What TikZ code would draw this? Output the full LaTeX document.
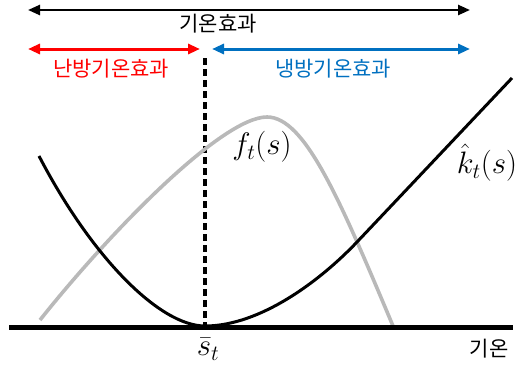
\documentclass[tikz,border=0pt]{standalone}
\usepackage{fix-cm}
\usepackage{fontspec}
\newfontfamily\kor{Noto Sans CJK KR}
\usepackage{tikz}
\usetikzlibrary{arrows.meta, positioning}
\definecolor{heat-red}{RGB}{255,0,0}
\definecolor{cool-blue}{RGB}{0,112,192}
\definecolor{dens-gray}{RGB}{185,185,185}

\begin{document}
\begin{tikzpicture}[x=1pt, y=-1pt,
  span/.style={{Triangle[length=12pt,width=10pt]}-{Triangle[length=12pt,width=10pt]}, line width=3pt},
  klabel/.style={font=\kor\fontsize{21}{24}\selectfont, inner sep=0pt},
  mlabel/.style={font=\fontsize{31}{36}\selectfont, inner sep=0pt},
]
  \useasboundingbox (0,0) rectangle (518,364);

  % Arrow end points
  \coordinate (allL) at (28,10);
  \coordinate (allR) at (470,10);
  \coordinate (heatL) at (28,49);
  \coordinate (heatR) at (200,49);
  \coordinate (coolL) at (212,49);
  \coordinate (coolR) at (470,49);

  % Effect arrows
  \draw[span, line width=2.4pt] (allL) -- (allR);
  \draw[span, heat-red] (heatL) -- (heatR);
  \draw[span, cool-blue] (coolL) -- (coolR);

  % Effect labels
  \node[klabel] (allTxt) at (218,24) {기온효과};
  \node[klabel, text=heat-red] (heatTxt) at (111,69) {난방기온효과};
  \node[klabel, text=cool-blue] (coolTxt) at (333,69) {냉방기온효과};

  % Axis and threshold
  \coordinate (axL) at (9,327);
  \coordinate (axR) at (513,327);
  \coordinate (thrTop) at (205,58);
  \coordinate (thrBot) at (205,326);
  \draw[line width=3.4pt, dash pattern=on 7pt off 4pt] (thrTop) -- (thrBot);

  % Density curve
  \draw[dens-gray, line width=3.6pt]
    (40,320) .. controls (110,232) and (222,117) .. (267,117)
    .. controls (305,117) and (340,200) .. (393,326);

  % Cost curve
  \draw[line width=3pt]
    (39,156) .. controls (92,258) and (160,326) .. (205,326)
    .. controls (260,326) and (320,281) .. (357,242)
    .. controls (410,186) and (460,133) .. (512,78);

  \draw[line width=5pt] (axL) -- (axR);

  % Math labels
  \node[mlabel] (fTxt) at (262,147) {$f_t(s)$};
  \node[mlabel] (kTxt) at (487,163) {$\hat{k}_t(s)$};
  \node[mlabel] (sTxt) at (208,349) {$\bar{s}_t$};
  \node[klabel] (axTxt) at (489,349) {기온};
\end{tikzpicture}
\end{document}
